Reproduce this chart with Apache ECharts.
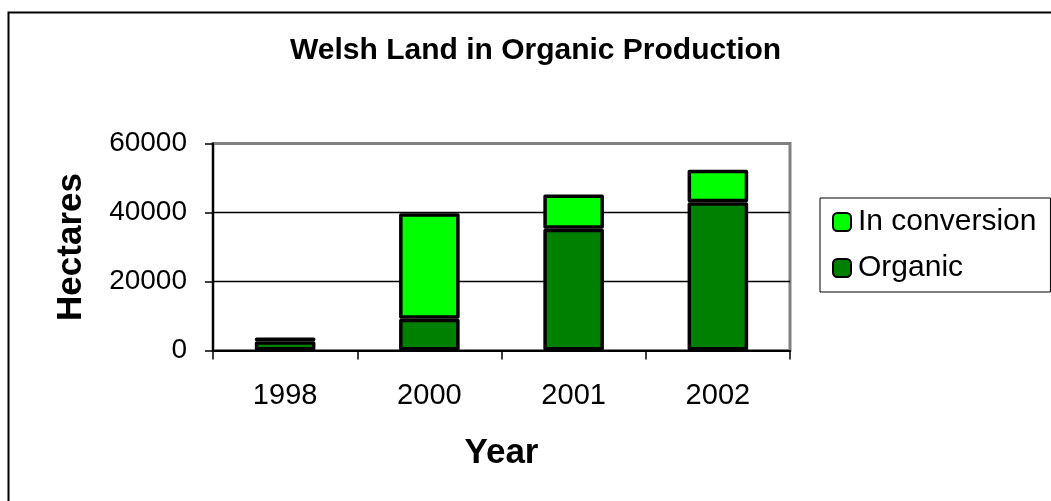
<!DOCTYPE html>
<html>
<head>
<meta charset="utf-8">
<title>Welsh Land in Organic Production</title>
<script src="https://cdn.jsdelivr.net/npm/echarts@6/dist/echarts.min.js"></script>
<style>
  html, body { margin: 0; padding: 0; background: #ffffff; }
  #chart { width: 1051px; height: 501px; }
</style>
</head>
<body>
<div id="chart"></div>
<script>
// Hectares of Welsh farmland, by year
const years = ['1998', '2000', '2001', '2002'];
const organic = [2700, 9200, 35300, 43000];
const inConversion = [1100, 30600, 9900, 9400];
const yTicks = { min: 0, max: 60000, step: 20000 };

const FONT = '"Liberation Sans", Arial, sans-serif';

const chart = echarts.init(document.getElementById('chart'), null, { renderer: 'canvas' });

const barStyle = (fill) => ({
  color: fill,
  borderColor: '#000000',
  borderWidth: 3.5,
  borderJoin: 'round'
});

chart.setOption({
  backgroundColor: '#ffffff',
  animation: false,
  textStyle: { fontFamily: FONT, color: '#000000' },
  title: {
    text: 'Welsh Land in Organic Production',
    left: 290,
    top: 36,
    padding: 0,
    textStyle: { fontFamily: FONT, fontSize: 30, fontWeight: 'bold', color: '#000000' }
  },
  legend: {
    orient: 'vertical',
    left: 820,
    top: 198,
    padding: [9, 14, 9, 12],
    itemGap: 16,
    itemWidth: 18,
    itemHeight: 18,
    icon: 'roundRect',
    borderColor: '#000000',
    borderWidth: 1,
    data: ['In conversion', 'Organic'],
    itemStyle: { borderColor: '#000000', borderWidth: 2 },
    textStyle: { fontFamily: FONT, fontSize: 30, lineHeight: 30, color: '#000000', padding: [0, 0, 0, 2] }
  },
  grid: {
    left: 213,
    right: 261,
    top: 143.5,
    bottom: 150.5,
    show: true,
    borderColor: '#808080',
    borderWidth: 3,
    backgroundColor: '#ffffff'
  },
  xAxis: {
    type: 'category',
    data: years,
    boundaryGap: true,
    name: 'Year',
    nameLocation: 'middle',
    nameGap: 85,
    nameTextStyle: { fontFamily: FONT, fontSize: 35, fontWeight: 'bold', color: '#000000' },
    axisLine: { show: true, lineStyle: { color: '#000000', width: 2 } },
    axisTick: { show: true, length: 9, lineStyle: { color: '#000000', width: 1.5 } },
    axisLabel: { margin: 31, fontFamily: FONT, fontSize: 29, color: '#000000' },
    splitLine: { show: false }
  },
  yAxis: {
    type: 'value',
    min: yTicks.min,
    max: yTicks.max,
    interval: yTicks.step,
    name: 'Hectares',
    nameLocation: 'middle',
    nameRotate: 90,
    nameGap: 124,
    nameTextStyle: { fontFamily: FONT, fontSize: 35, fontWeight: 'bold', color: '#000000' },
    axisLine: { show: true, lineStyle: { color: '#000000', width: 2 } },
    axisTick: { show: true, length: 8, lineStyle: { color: '#000000', width: 1.5 } },
    axisLabel: {
      margin: 26,
      fontFamily: FONT,
      fontSize: 28,
      color: '#000000',
      formatter: (v) => String(v)
    },
    splitLine: { show: true, showMinLine: false, showMaxLine: false, lineStyle: { color: '#000000', width: 1.3 } }
  },
  series: [
    {
      name: 'Organic',
      type: 'bar',
      stack: 'land',
      barWidth: '42%',
      data: organic,
      itemStyle: barStyle('#008000')
    },
    {
      name: 'In conversion',
      type: 'bar',
      stack: 'land',
      barWidth: '42%',
      data: inConversion,
      itemStyle: barStyle('#00ff00')
    }
  ],
  graphic: [
    {
      type: 'rect',
      silent: true,
      z: 100,
      shape: { x: 8.5, y: 12.5, width: 1100, height: 700 },
      style: { fill: null, stroke: '#000000', lineWidth: 2 }
    }
  ]
});
</script>
</body>
</html>
